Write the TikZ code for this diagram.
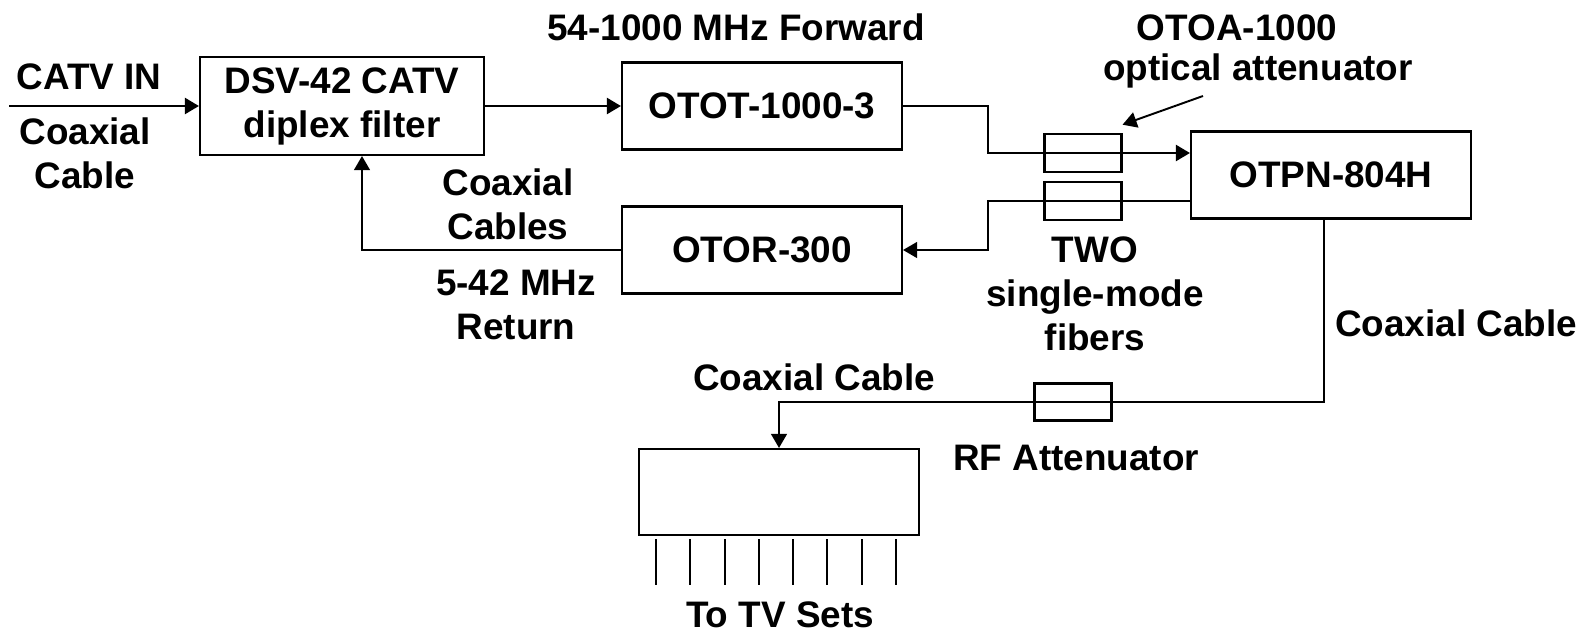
\documentclass[tikz,border=0pt]{standalone}
\usepackage{fontspec}
\setmainfont{Liberation Sans}
\usetikzlibrary{arrows.meta}

\begin{document}
\begin{tikzpicture}[x=0.02cm,y=-0.02cm,>={Triangle[length=8pt,width=9pt]},
    txt/.style={font=\bfseries\fontsize{21}{25}\selectfont,align=center,inner sep=0pt},
    blk/.style={txt,draw,line width=1.2pt,minimum width=5.6cm,minimum height=1.74cm},
    att/.style={draw,line width=1.2pt,minimum width=1.54cm,minimum height=0.77cm,inner sep=0pt},
    wire/.style={line width=1.1pt},
    fwd/.style={line width=1.6pt}]
    \useasboundingbox (0,0) rectangle (1585,636);
    \node[blk,minimum width=5.68cm,minimum height=1.96cm] (dsv) at (342,106) {DSV-42 CATV\\diplex filter};
    \node[blk] (otot) at (762,106) {OTOT-1000-3};
    \node[blk] (otor) at (762,250) {OTOR-300};
    \node[blk] (otpn) at (1331,175) {OTPN-804H};
    \node[blk,minimum height=1.72cm] (tvbox) at (779,492) {};
    \node[att] (att1) at (1083,153) {};
    \node[att] (att2) at (1083,201) {};
    \node[att,minimum height=0.74cm] (rfatt) at (1073,402) {};
    \coordinate (catv) at (9,106);
    \coordinate (fbend) at (988,0);
    \coordinate (ptr) at (1203,96);
    \node[txt] (catvlbl) at (89,77) {CATV IN};
    \node[txt] (incable) at (85,153) {Coaxial\\Cable};
    \node[txt] (fwdlbl) at (736,27) {54-1000 MHz Forward};
    \node[txt] (otoalbl) at (1237,28) {OTOA-1000};
    \node[txt] (optlbl) at (1258,71) {optical attenuator};
    \node[txt] (retcable) at (508,204) {Coaxial\\Cables};
    \node[txt] (retlbl) at (516,305) {5-42 MHz\\Return};
    \node[txt] (fiberlbl) at (1095,294) {TWO\\single-mode\\fibers};
    \node[txt] (outcable) at (1456,323) {Coaxial Cable};
    \node[txt] (tvcable) at (814,377) {Coaxial Cable};
    \node[txt] (rflbl) at (1076,458) {RF Attenuator};
    \node[txt] (tvlbl) at (780,615) {To TV Sets};
    \draw[fwd,->] (catv) -- (dsv.west);
    \draw[fwd,->] (dsv.east) -- (otot.west);
    \draw[fwd,->] (otot.east) -| (fbend |- att1) -- (att1 -| otpn.west);
    \draw[wire,->] (att2 -| otpn.west) -- (fbend |- att2) |- (otor.east);
    \draw[wire,->] (otor.west) -| ([xshift=0.4cm]dsv.south);
    \draw[wire,->] ([xshift=-0.14cm]otpn.south) |- (rfatt.east) -- (rfatt.west) -| (tvbox.north);
    \draw[wire,->] (ptr) -- ([yshift=0.16cm]att1.north east);
    \foreach \i in {0,...,7}{
        \draw[wire] ([shift={(0.36cm+0.686cm*\i,-0.06cm)}]tvbox.south west) -- ++(0pt,-0.92cm);
    }
\end{tikzpicture}
\end{document}
